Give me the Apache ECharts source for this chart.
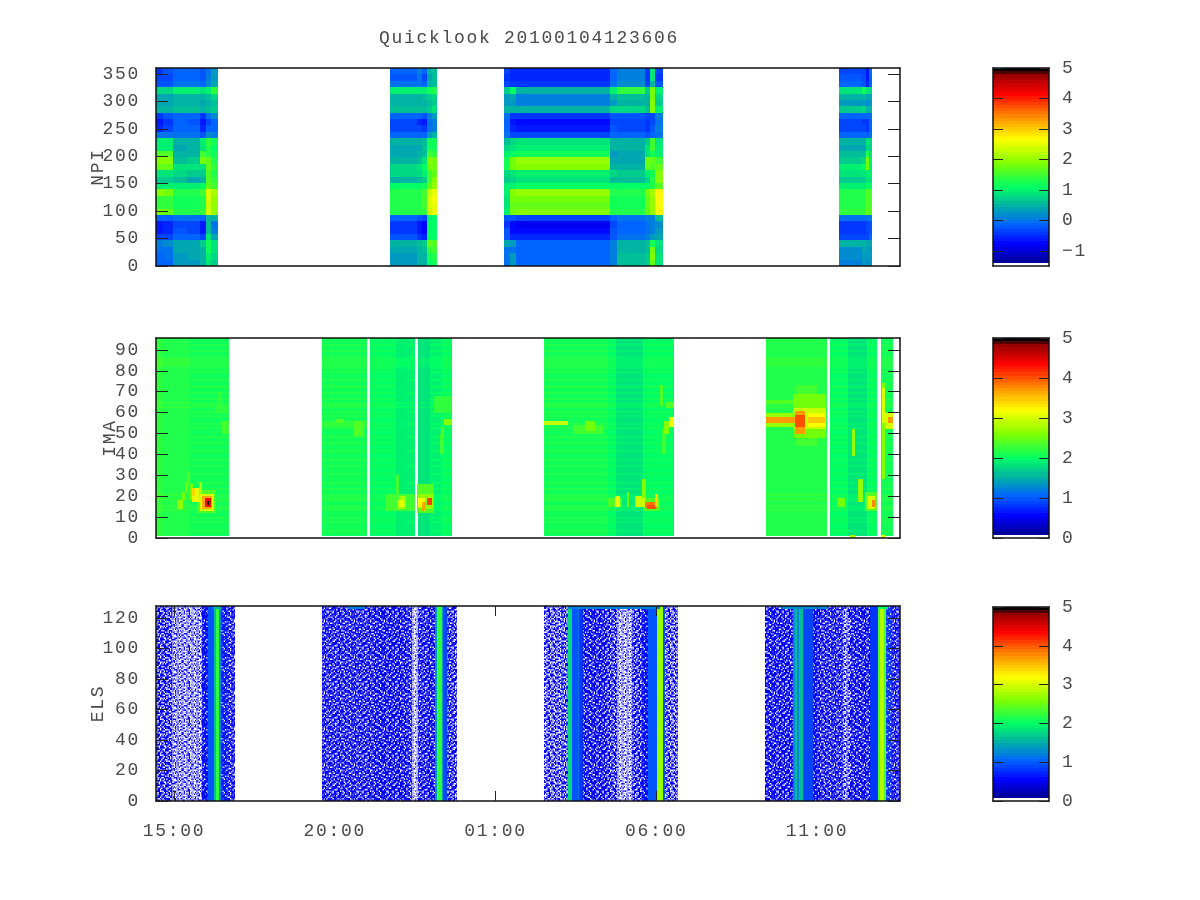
<!DOCTYPE html>
<html><head><meta charset="utf-8">
<style>html,body{margin:0;background:#fff}#c{width:1200px;height:900px}</style>
<script src="https://cdn.jsdelivr.net/npm/echarts@6/dist/echarts.min.js"></script>
</head><body><div id="c"></div>
<script>
// ---------- axis tick values ----------
const timeTicks = [0, 5, 10, 15, 20];
const timeLabels = ['15:00', '20:00', '01:00', '06:00', '11:00'];
const npiTicks = [0, 50, 100, 150, 200, 250, 300, 350];
const imaTicks = [0, 10, 20, 30, 40, 50, 60, 70, 80, 90];
const elsTicks = [0, 20, 40, 60, 80, 100, 120];
const barTicksNpi = [-1, 0, 1, 2, 3, 4, 5];
const barTicks = [0, 1, 2, 3, 4, 5];

// ---------- NPI: time edges (hours after 15:00), rows bottom to top, log values ----------
const npiEdges1 = [-0.56, -0.34, -0.03, 0.40, 0.81, 1.00, 1.15, 1.37];
const npiRows1 = [
[-.1,-.1,.3,.3,.5,.9,.7],[-.1,-.05,.3,.35,.5,1,.8],[0,0,.35,.4,.5,1.2,.9],[.1,.15,.4,.4,.7,1.2,.9],
[-.3,-.3,-.15,-.1,-.3,.9,.4],[-.6,-.5,-.25,-.3,-.6,.6,.1],[-.6,-.5,-.3,-.3,-.6,.6,0],[-.1,-.1,0,0,-.1,.5,.5],
[1.8,1.7,1.3,1.3,1.4,2.4,2],[1.4,1.4,1.2,1.2,1.3,2.3,2],[1.4,1.4,1.2,1.2,1.3,2.4,2],[1.9,1.8,1.3,1.3,1.5,2.4,2.1],
[1,1,1,1,1.1,1.7,1.5],[.7,.7,.6,.4,.5,1.6,1.4],[.9,.9,.8,.7,.7,1.6,1.3],[1.7,1.7,.9,.9,.9,1.7,1.4],
[1.9,1.9,.6,.7,1.8,1.7,1.3],[1.6,1.6,.5,.5,1.5,1.3,1.2],[1,1,.4,.45,.9,1.3,1.1],[1,1,.5,.5,1,1.4,1.2],
[0,0,0,0,-.2,.2,.1],[-.5,-.3,-.1,-.1,-.55,-.1,-.1],[-.6,-.45,-.15,-.2,-.6,-.3,-.1],[-.4,-.2,-.1,-.1,-.4,0,.2],
[.5,.5,.6,.6,.5,.6,.7],[.4,.4,.45,.45,.35,.5,.6],[.4,.4,.5,.5,.45,.6,.8],[.8,.8,1,1,.9,1,1.4],
[-.2,-.2,0,0,-.1,.2,.4],[-.3,-.3,-.1,-.1,-.2,.1,.3],[-.4,-.2,-.1,-.1,-.2,0,.3]];
const npiEdges2 = [6.72, 7.56, 7.71, 7.87, 8.02, 8.18];
const npiRows2 = [
[.3,.5,.5,1.1,1.2],[.3,.5,.5,1.2,1.3],[.4,.5,.6,1.4,1.5],[.5,.6,.7,1.7,1.6],
[-.2,-.4,-.5,1.1,1.1],[-.4,-.6,-.7,1.1,1.1],[-.4,-.6,-.7,1.1,1.1],[-.1,-.2,-.3,1,1.1],
[1.3,1.3,1.4,2.4,2.5],[1.3,1.3,1.5,2.4,2.5],[1.3,1.3,1.5,2.4,2.6],[1.3,1.3,1.5,2.3,2.5],
[1.1,1.1,1.2,1.7,2],[.5,.6,.7,1.5,1.9],[.8,.8,1,1.5,1.7],[.8,.9,1.1,1.8,1.8],
[.5,.6,.9,1.9,1.8],[.4,.5,.6,1.5,1.4],[.4,.4,.6,1.2,1.2],[.5,.5,.6,1.2,1.2],
[-.1,-.1,-.1,.3,.5],[-.3,-.3,-.4,0,.1],[-.3,-.5,-.6,0,.1],[-.1,-.1,-.2,.1,.3],
[.6,.6,.6,.7,.9],[.5,.5,.5,.6,.7],[.5,.5,.6,.7,.8],[1,1,1,1.2,1.3],
[0,0,-.1,.5,.6],[-.2,0,-.3,.4,.6],[-.1,.1,-.1,.5,.6]];
const npiEdges3 = [10.26, 10.45, 10.64, 13.56, 13.78, 14.65, 14.81, 14.96, 15.21];
const npiRows3 = [
[0,.3,-.15,.1,.55,.7,1.7,.9],[0,.3,-.15,.1,.55,.7,1.9,.9],[0,0,-.15,.1,.5,.6,1.8,.8],[.4,.3,-.1,.1,.5,.6,1.2,.9],
[-.2,-.5,-.55,-.2,0,.1,.3,.4],[-.2,-.7,-.75,-.2,-.1,0,.1,.3],[-.4,-.75,-.8,-.3,-.1,0,.1,.2],[-.2,-.2,-.3,-.15,0,.1,.1,.6],
[1,1.85,1.95,1.3,1.3,1.7,2,2.7],[.9,1.7,1.7,1.2,1.2,1.7,2,2.6],[.9,1.75,1.75,1.2,1.2,1.7,2,2.7],[1,1.9,2,1.3,1.3,1.8,2.1,2.7],
[1,1,1.1,1.1,1.1,1.1,1.3,1.6],[.7,.8,.9,.6,.6,.8,1.3,1.9],[.8,.9,1,.8,.7,1,1.2,1.9],[1.2,1.85,1.95,.5,.5,1.7,1.6,1.7],
[1.2,1.85,2.05,.4,.4,1.8,1.7,1.5],[1,1.1,1.2,.3,.35,.9,1.2,1],[.8,.9,1,.5,.45,.9,1.5,1],[.6,.8,.9,.5,.45,.7,1.5,.9],
[0,-.3,-.35,-.1,-.1,-.2,-.1,0],[-.1,-.55,-.65,-.2,-.3,-.4,-.2,.1],[-.1,-.65,-.75,-.3,-.3,-.4,-.3,0],[0,-.4,-.4,-.2,-.2,-.3,-.3,.1],
[.5,.5,.5,.8,.8,.6,1.9,1],[.3,.3,.1,.3,.5,.5,1.9,.7],[.3,.4,.1,.5,.6,.5,1.8,.8],[.7,1.1,.5,1,1.4,.7,1.8,1],
[-.3,-.45,-.45,0,.2,-.3,.5,-.2],[-.4,-.5,-.55,-.1,.1,-.4,.9,-.4],[-.3,-.5,-.55,-.1,.1,-.4,.9,-.3]];
const npiEdges4 = [20.68, 21.40, 21.52, 21.62, 21.71];
const npiRows4 = [
[.1,.3,.2,.3],[.2,.3,.3,.3],[.2,.4,.3,.3],[.5,.5,.4,.4],
[-.3,-.3,-.3,-.1],[-.45,-.4,-.3,-.2],[-.45,-.4,-.3,-.2],[0,0,0,.1],
[1.4,1.4,1.7,1.6],[1.3,1.3,1.6,1.5],[1.3,1.3,1.6,1.6],[1.3,1.3,1.6,1.5],
[1,1,1.1,1.1],[.7,.7,.9,.9],[.9,.9,1,1],[1,1.1,1.8,1],
[.7,.8,1.8,1],[.6,.6,1.3,.9],[.35,.4,.8,.8],[.45,.5,.9,.8],
[-.1,-.1,-.1,0],[-.3,-.3,-.4,-.1],[-.35,-.4,-.4,-.1],[-.1,-.1,-.1,0],
[.7,.8,.5,.5],[.3,.3,.2,.3],[.5,.5,.4,.4],[.9,1.2,.9,.8],
[-.1,-.2,-.5,-.1],[-.2,-.3,-.6,-.1],[-.3,-.3,-.6,0]];

// ---------- IMA: column start, column end, column level; row offsets; features ----------
const imaColStart = [-.56,-.40,.5, 4.6, 6.10,6.9,7.2, 7.59,7.95,8.3, 11.51,13.5,13.75,14.59, 18.41, 20.40,20.95,21.55, 22.0];
const imaColEnd   = [-.40,.5,1.71, 6.0, 6.9,7.2,7.5, 7.95,8.3,8.65, 13.5,13.75,14.59,15.55, 20.31, 20.95,21.55,21.87, 22.36];
const imaColLevel = [2.2,2.12,2.1, 2.1, 2.02,1.88,1.9, 1.8,1.95,2.02, 2.1,2.02,1.84,2.02, 2.12, 2.02,1.86,2.02, 2.08];
const imaRowOffset = [
0,0,.05,0,0,0,.06,0,.04,0,0,0,.08,.05,.08,0,.05,.08,.05,.08,
0,0,.05,0,0,.06,0,0,0,.05,0,0,0,.06,0,0,.04,0,0,0,
.06,0,0,0,.05,0,0,.06,0,0,0,.05,0,.06,0,0,0,.05,0,.06,
0,.08,.05,.08,0,.05,0,0,.06,0,0,.05,0,0,.06,0,0,0,.05,0,
.06,.08,.08,.08,.08,.06,0,0,.05,0,0,.06,0,0,.05,0];
const imaFeatT0 = [.70,6.6,7.55,14.6,21.5, .09,.25,.33,.40,.50,.56,.56,.78,.81,.86,.95,1.03,1.28,1.35,1.5,
 4.6,5.0,5.6,5.2, 6.65,6.95,7.0,6.9, 7.59,7.6,7.7,7.87,8.27,8.3,8.4,8.1,
 11.51,12.41,12.78,13.5,13.72,14.09,14.34,14.55,14.65,14.7,14.95,15.18,15.25,15.4,15.1,15.3,
 19.3,19.25,19.25,18.41,18.41,18.41,19.32,19.32,19.72,19.72,
 21.09,20.62,21.27,21.55,21.71,21.03, 22.03,22.03,22.12,22.2,22.0];
const imaFeatT1 = [1.3,7.5,8.1,15.1,21.85, .28,.35,.43,.50,.60,.81,.66,.87,1.25,1.19,1.14,1.08,1.68,1.5,1.71,
 6.0,5.3,5.9,6.0, 7.5,7.2,7.15,7.0, 8.06,7.8,7.85,8.02,8.4,8.4,8.65,8.65,
 12.25,13.34,13.1,13.93,13.87,14.15,14.65,14.68,15.05,15.0,15.05,15.3,15.4,15.55,15.2,15.55,
 20.0,20.28,20.28,19.3,19.25,19.3,19.63,19.63,20.25,20.25,
 21.18,20.87,21.43,21.8,21.8,21.18, 22.12,22.12,22.36,22.36,22.1];
const imaFeatC0 = [12,13,12,13,13, 14,18,22,26,18,17,20,19,13,14,15,16,60,63,50,
 53,55,49,62, 14,14,15,18, 14,15,13,16,40,48,54,60,
 54,50,51,15,15,15,15,19,14.5,14,15,40,50,53,63,62,
 44,48,52,53,64,55,50,53,53,55,
 39,15,17,14,15,0, 28,55,52,55,0];
const imaFeatC1 = [23,21,26,19,22, 18,22,27,32,26,24,24,27,21,20,19,17.5,63,70,56,
 56,57,56,64, 18,20,18,30, 21,19,17,19,50,53,57,68,
 56,54,56,19,20,22,20,28,17,16,21,52,56,58,73,65,
 73,69,62,60,66,58,61,59,60,58,
 52,19,28,20,18,1.5, 74,72,60,58,1.5];
const imaFeatLevel = [2.35,2.3,2.35,2.4,2.35, 2.7,2.5,2.5,2.4,2.5,3.1,3.4,2.8,3.0,3.6,4.3,4.95,2.25,2.2,2.3,
 2.25,2.35,2.4,2.15, 2.3,2.8,3.1,2.3, 2.7,3.2,3.6,4.1,2.3,2.4,2.6,2.2,
 2.9,2.3,2.5,2.4,3.1,2.5,2.9,2.6,3.9,4.0,3.4,2.3,2.6,3.1,2.4,2.4,
 2.3,2.5,2.9,2.7,2.4,3.7,3.7,4.0,3.2,3.5,
 2.7,2.5,2.7,3.0,3.8,2.8, 2.6,3.0,3.0,3.7,3.0];

// ---------- ELS: column start, column end, level, share of empty bins ----------
const elsStart = [-.56,-.06,.87,1.06,1.24,1.31,1.41,1.46,1.65,
 4.60,6.19,7.25,7.40,7.59,7.87,8.12,8.18,8.33,8.37,8.49,
 11.51,12.25,12.39,12.58,12.60,12.72,13.47,13.78,14.25,14.56,14.74,15.02,15.22,15.27,
 18.38,19.25,19.32,19.38,19.43,19.56,19.88,20.0,20.81,21.03,21.65,21.90,21.96,22.08,22.15,22.33];
const elsEnd = [-.06,.87,1.06,1.24,1.31,1.41,1.46,1.65,1.90,
 6.19,7.25,7.40,7.59,7.87,8.12,8.18,8.33,8.37,8.49,8.80,
 12.25,12.39,12.58,12.60,12.72,13.47,13.78,14.25,14.56,14.74,15.02,15.22,15.27,15.67,
 19.25,19.32,19.38,19.43,19.56,19.88,20.0,20.81,21.03,21.65,21.90,21.96,22.08,22.15,22.33,22.58];
const elsLevel = [.5,.5,.55,1.0,1.6,2.2,1.3,.7,.5,
 .5,.5,.5,.5,.5,.5,1.4,2.25,1.4,.9,.5,
 .5,1.75,1.0,1.15,.85,.5,.5,.5,.5,.55,1.0,2.7,1.0,.5,
 .5,1.3,1.6,1.2,1.6,.9,.6,.5,.5,.5,.85,2.3,2.85,2.3,.85,.5];
const elsEmpty = [.3,.55,.05,0,0,0,0,.05,.2,
 .2,.12,.2,.75,.2,.12,0,0,0,0,.3,
 .4,0,0,0,0,.16,.3,.7,.3,.06,0,0,0,.4,
 .16,0,0,0,0,0,.06,.2,.45,.16,0,0,0,0,.05,.2];
const elsTopStart = [1.2,5.4,12.25,18.9,21.9];
const elsTopEnd = [1.45,5.95,15.1,20.3,22.2];
const elsTopLevel = [1.5,1.2,1.2,1.3,2.0];

// ---------- look ----------
const paletteStops = [0,.11,.21,.30,.40,.52,.64,.74,.87,.97,.985];
const paletteColors = [[0,0,128],[0,0,255],[0,100,255],[0,175,165],[0,255,100],[128,255,0],[255,255,0],[255,156,0],[255,0,0],[144,0,0],[0,0,0]];
const speckleTile = [
'730952184630729418536207','184627095318462907351846','952301768245019736284590','306814972653820145962713',
'681459027316947502638194','429703561982536871409265','875136240764012395716083','013692857401689243058417',
'567240318956723014892635','298415670132408569173042','740863951627195380426758','153079426385746012839561',
'926541087013592647105382','480312695748031825964170','615798234109467350278946','379046152860914763501829',
'802635971423586197043265','146980327561270834569718','593217408695134209876041','761048563920857641230593',
'234795016382649017585126','098562743167302584916370','657301892456918736042489','321849670205463195778013'];
const textColor = '#4a4a4a';
const fontName = '"Liberation Mono"';
const fontPx = 18;

// wide gnuplot style lettering
const origGetContext = HTMLCanvasElement.prototype.getContext;
HTMLCanvasElement.prototype.getContext = function () {
  const ctx = origGetContext.apply(this, arguments);
  if (ctx && 'letterSpacing' in ctx) ctx.letterSpacing = '1.7px';
  return ctx;
};

function colorAt(f) {
  if (f < .012) return 'rgb(255,255,255)';
  f = Math.min(.999, (Math.floor(f * 64) + .5) / 64);
  if (f >= .985) return 'rgb(0,0,0)';
  let i = 0;
  while (i < paletteStops.length - 2 && f > paletteStops[i + 1]) i++;
  const k = (f - paletteStops[i]) / (paletteStops[i + 1] - paletteStops[i]);
  const a = paletteColors[i], b = paletteColors[i + 1];
  return 'rgb(' + a.map((x, j) => Math.round(x + (b[j] - x) * Math.min(1, k))).join(',') + ')';
}
const tileCache = {};
function speckled(color, empty) {
  const key = color + empty;
  if (tileCache[key]) return tileCache[key];
  const cv = document.createElement('canvas');
  const cw = 1.25, ch = 1.5, n = speckleTile.length;
  cv.width = cw * n; cv.height = ch * n;
  const g = origGetContext.call(cv, '2d');
  g.fillStyle = color; g.fillRect(0, 0, cv.width, cv.height);
  speckleTile.forEach((row, y) => [...row].forEach((d, x) => {
    const t = +d / 10;
    if (t < empty) { g.fillStyle = '#fff'; g.fillRect(x * cw, y * ch, cw, ch); }
    else if (t < empty + .1) { g.fillStyle = '#6a6aff'; g.fillRect(x * cw, y * ch, cw, ch); }
  }));
  return tileCache[key] = cv;
}

// ---------- build marks ----------
const rowH = 361 / 31;
const npiData = [];
[[npiEdges1, npiRows1], [npiEdges2, npiRows2], [npiEdges3, npiRows3], [npiEdges4, npiRows4]].forEach(([e, rows]) => {
  rows.forEach((r, i) => r.forEach((v, j) => npiData.push([e[j], e[j + 1], i * rowH, (i + 1) * rowH, v, 0])));
});
const imaData = [];
imaColStart.forEach((s, j) => imaRowOffset.forEach((o, i) =>
  imaData.push([s, imaColEnd[j], i + 1, i + 2, imaColLevel[j] + o, 0])));
imaFeatT0.forEach((s, k) => imaData.push([s, imaFeatT1[k], imaFeatC0[k], imaFeatC1[k], imaFeatLevel[k], 0]));
const elsData = elsStart.map((s, j) => [s, elsEnd[j], 0, 128, elsLevel[j], elsEmpty[j]]);
elsTopStart.forEach((s, j) => elsData.push([s, elsTopEnd[j], 126, 128, elsTopLevel[j], 0]));

function heatRender(lo, hi) {
  return function (p, api) {
    const a = api.coord([api.value(0), api.value(3)]);
    const b = api.coord([api.value(1), api.value(2)]);
    const x = Math.round(a[0]), y = Math.round(a[1]);
    const col = colorAt((api.value(4) - lo) / (hi - lo));
    const empty = api.value(5);
    return { type: 'rect', shape: { x, y, width: Math.round(b[0]) - x, height: Math.round(b[1]) - y },
      style: { fill: empty > 0 ? { image: speckled(col, empty), repeat: 'repeat' } : col } };
  };
}
function barData(lo, hi) {
  const out = [];
  for (let i = 0; i < 64; i++) out.push([0, 1, lo + (hi - lo) * i / 64, lo + (hi - lo) * (i + 1) / 64, lo + (hi - lo) * (i + .5) / 64, 0]);
  return out;
}

const panels = [
  { top: 68, h: 198, ymax: 361, ticks: npiTicks, name: 'NPI', gap: 48, data: npiData, lo: -1.5, xt: false, barTop: 68, barH: 198, barTicks: barTicksNpi },
  { top: 338, h: 200, ymax: 95.7, ticks: imaTicks, name: 'IMA', gap: 36, data: imaData, lo: 0, xt: false, barTop: 338, barH: 200, barTicks: barTicks },
  { top: 606, h: 195, ymax: 128, ticks: elsTicks, name: 'ELS', gap: 48, data: elsData, lo: 0, xt: true, barTop: 607, barH: 194, barTicks: barTicks }
];
const line = { lineStyle: { color: '#111', width: 1.5 } };
const lbl = { color: textColor, fontFamily: fontName, fontSize: fontPx };
const grid = [], xAxis = [], yAxis = [], series = [];
function addX(g, pos, min, max, tick, label) {
  xAxis.push({ type: 'value', gridIndex: g, position: pos, min, max, z: 6, splitLine: { show: false },
    axisLine: Object.assign({ show: true, onZero: false }, line),
    axisTick: { show: !!tick, inside: true, length: 10, lineStyle: { color: '#222', width: 1 }, customValues: tick || [] },
    axisLabel: label ? { show: true, customValues: tick, margin: 20, ...lbl,
      formatter: v => timeLabels[timeTicks.indexOf(v)] } : { show: false } });
  return xAxis.length - 1;
}
function addY(g, pos, min, max, tick, label, name, gap, len, margin) {
  yAxis.push({ type: 'value', gridIndex: g, position: pos, min, max, z: 6, splitLine: { show: false },
    axisLine: Object.assign({ show: true, onZero: false }, line),
    axisTick: { show: true, inside: true, length: len, lineStyle: { color: '#222', width: 1 }, customValues: tick },
    axisLabel: label ? { show: true, customValues: tick, margin, ...lbl,
      formatter: v => String(v).replace('-', '\u2212') } : { show: false },
    name: name || '', nameLocation: 'middle', nameRotate: 90, nameGap: gap || 0, nameMoveOverlap: false,
    nameTextStyle: { ...lbl } });
  return yAxis.length - 1;
}
panels.forEach(p => {
  let g = grid.length;
  grid.push({ left: 156, top: p.top, width: 744, height: p.h });
  const xb = addX(g, 'bottom', -0.56, 22.58, p.xt ? timeTicks : null, p.xt);
  addX(g, 'top', -0.56, 22.58, p.xt ? timeTicks : null, false);
  const yl = addY(g, 'left', 0, p.ymax, p.ticks, true, p.name, p.gap, 12, 16);
  addY(g, 'right', 0, p.ymax, p.ticks, false, '', 0, 12, 0);
  series.push({ type: 'custom', coordinateSystem: 'cartesian2d', xAxisIndex: xb, yAxisIndex: yl, clip: true,
    animation: false, silent: true, progressive: 0, renderItem: heatRender(p.lo, 5),
    encode: { x: [0, 1], y: [2, 3] }, data: p.data });
  g = grid.length;
  grid.push({ left: 993, top: p.barTop, width: 56, height: p.barH });
  const bx = addX(g, 'bottom', 0, 1, null, false);
  addX(g, 'top', 0, 1, null, false);
  const by = addY(g, 'left', p.lo, 5, p.barTicks, false, '', 0, 10, 0);
  addY(g, 'right', p.lo, 5, p.barTicks, true, '', 0, 10, 13);
  series.push({ type: 'custom', coordinateSystem: 'cartesian2d', xAxisIndex: bx, yAxisIndex: by, clip: true,
    animation: false, silent: true, progressive: 0, renderItem: heatRender(p.lo, 5),
    encode: { x: [0, 1], y: [2, 3] }, data: barData(p.lo, 5) });
});

const chart = echarts.init(document.getElementById('c'), null, { renderer: 'canvas', width: 1200, height: 900 });
chart.setOption({
  animation: false, backgroundColor: '#fff',
  title: { text: 'Quicklook 20100104123606', left: 524, top: 23, textAlign: 'center',
    textStyle: { color: textColor, fontFamily: fontName, fontSize: fontPx, fontWeight: 'normal' } },
  grid, xAxis, yAxis, series
});
</script></body></html>
